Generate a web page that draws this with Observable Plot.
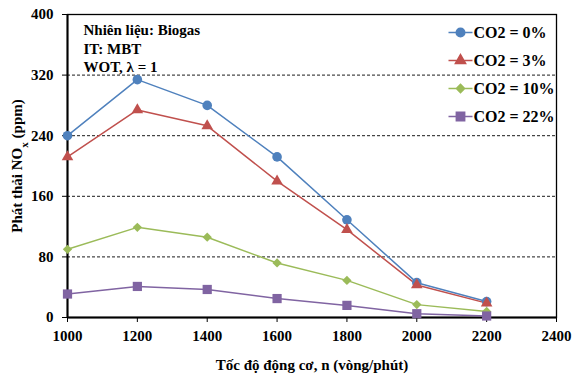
<!DOCTYPE html>
<html>
<head>
<meta charset="utf-8">
<script src="https://cdn.jsdelivr.net/npm/d3@7"></script>
<script src="https://cdn.jsdelivr.net/npm/@observablehq/plot@0.6"></script>
<style>
  html, body { margin: 0; padding: 0; background: #fff; }
  #chart svg { font-family: "Liberation Serif", "Times New Roman", serif; font-weight: bold; }
</style>
</head>
<body>
<div id="chart"></div>
<script>
// ---- data ----
const speeds = [1000, 1200, 1400, 1600, 1800, 2000, 2200];
const co2_0  = [240, 314, 280, 212, 129, 46, 21];
const co2_3  = [212, 274, 253, 180, 116, 43, 19];
const co2_10 = [90, 119, 106, 72, 49, 17, 8];
const co2_22 = [31, 41, 37, 25, 16, 5, 2];
const seriesNames = ["CO2 = 0%", "CO2 = 3%", "CO2 = 10%", "CO2 = 22%"];
const seriesValues = [co2_0, co2_3, co2_10, co2_22];
const seriesColors = ["#4F81BD", "#C0504D", "#9BBB59", "#8064A2"];
const seriesSymbols = ["circle", "triangle", "diamond2", "square"];
const seriesR = [4.8, 4.3, 4.2, 5.2];
const xTicks = [1000, 1200, 1400, 1600, 1800, 2000, 2200, 2400];
const yTicks = [0, 80, 160, 240, 320, 400];
const gridValues = [80, 160, 240, 320];
const annotation = "Nhiên liệu: Biogas\nIT: MBT\nWOT, λ = 1";
const xLabel = "Tốc độ động cơ, n (vòng/phút)";
const yLabel = "Phát thải NOx (ppm)";

const rows = seriesNames.flatMap((s, i) =>
  speeds.map((sp, j) => ({ series: s, speed: sp, value: seriesValues[i][j] })));

const d3Symbols = { circle: d3.symbolCircle, triangle: d3.symbolTriangle, diamond2: d3.symbolDiamond2, square: d3.symbolSquare };
function legendSymbol(name) {
  const base = d3Symbols[name];
  return { draw(ctx, size) { ctx.moveTo(-12, 0); ctx.lineTo(12, 0); base.draw(ctx, size); } };
}

const marks = [
  Plot.ruleY(gridValues, { stroke: "black", strokeWidth: 0.9, strokeDasharray: "3,2" }),
  Plot.frame({ stroke: "black", strokeWidth: 1.3 }),
  Plot.axisX({ ticks: xTicks, tickSize: 5, tickPadding: 8, tickFormat: d => String(d), fontSize: 15,
               label: xLabel, labelAnchor: "center", labelArrow: "none", labelOffset: 52 }),
  Plot.axisY({ ticks: yTicks, tickSize: 5, tickPadding: 9, tickFormat: d => String(d), fontSize: 15,
               label: yLabel, labelAnchor: "center", labelArrow: "none", labelOffset: 56 }),
  Plot.ruleX([1000], { stroke: "black", strokeWidth: 2 }),
  Plot.ruleY([0], { stroke: "black", strokeWidth: 2 }),
  Plot.line(rows, { x: "speed", y: "value", z: "series", stroke: "series", strokeWidth: 1.5 }),
  ...seriesNames.map((s, i) =>
    Plot.dot(rows.filter(d => d.series === s),
      { x: "speed", y: "value", fill: seriesColors[i], symbol: seriesSymbols[i], r: seriesR[i] })),
  Plot.text([annotation], { frameAnchor: "top-left", dx: 16, dy: 7, textAnchor: "start", lineAnchor: "top",
               lineHeight: 1.25, fontSize: 15, fontWeight: "bold", fill: "black" }),
  ...seriesNames.map((s, i) =>
    Plot.dot([s], { frameAnchor: "top-left", dx: 393, dy: 18 + 28 * i, symbol: legendSymbol(seriesSymbols[i]),
                    r: seriesR[i] - 0.5, fill: seriesColors[i], stroke: seriesColors[i], strokeWidth: 1.5 })),
  ...seriesNames.map((s, i) =>
    Plot.text([s], { frameAnchor: "top-left", dx: 406, dy: 18 + 28 * i, textAnchor: "start", lineAnchor: "middle",
                     fontSize: 16, fontWeight: "bold", fill: "black" }))
];

const chart = Plot.plot({
  width: 572, height: 378,
  marginLeft: 67, marginRight: 16, marginTop: 14, marginBottom: 61,
  style: { fontFamily: "Liberation Serif, Times New Roman, serif", fontWeight: "bold", fontSize: "15px", color: "black", background: "white" },
  x: { domain: [1000, 2400] },
  y: { domain: [0, 400] },
  color: { domain: seriesNames, range: seriesColors },
  marks
});
document.getElementById("chart").append(chart);

// subscript x in the y-axis label
d3.select(chart).selectAll('g[aria-label="y-axis label"] text').each(function () {
  const t = d3.select(this);
  t.text(null);
  t.append("tspan").text("Phát thải NO");
  t.append("tspan").attr("baseline-shift", "sub").attr("font-size", "11px").text("x");
  t.append("tspan").text(" (ppm)");
});
</script>
</body>
</html>
